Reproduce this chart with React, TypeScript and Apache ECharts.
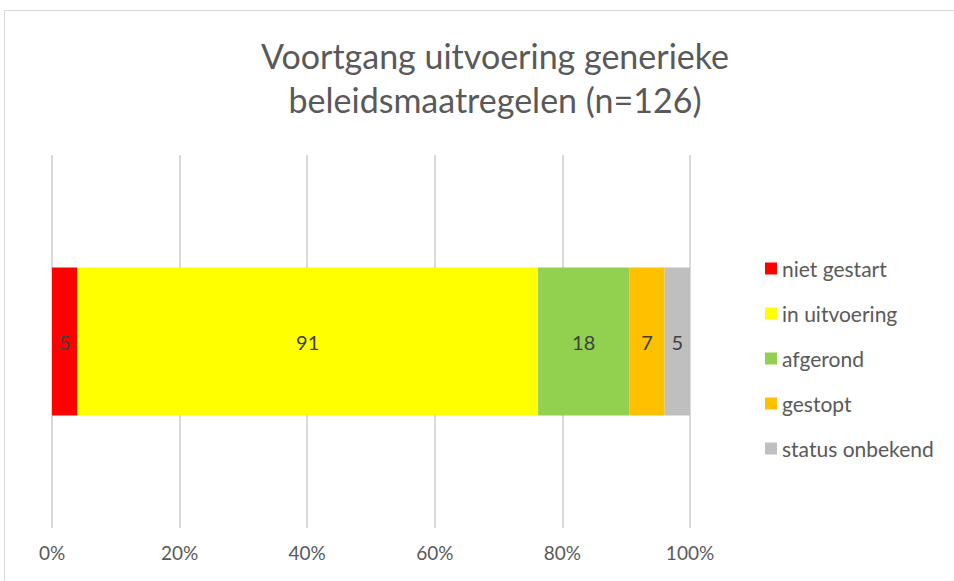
import React, { useEffect, useRef } from "react";
import * as echarts from "echarts";

const categories = ["Voortgang"];
const seriesNames = ["niet gestart", "in uitvoering", "afgerond", "gestopt", "status onbekend"];
const seriesValues = [5, 91, 18, 7, 5];
const seriesColors = ["#FF0000", "#FFFF00", "#92D050", "#FFC000", "#BFBFBF"];
const tickLabels = ["0%", "20%", "40%", "60%", "80%", "100%"];

export default function App() {
  const ref = useRef<HTMLDivElement>(null);
  useEffect(() => {
    document.body.style.margin = "0";
    const chart = echarts.init(ref.current!, null, { renderer: "svg" });
    const total = seriesValues.reduce((a, b) => a + b, 0);
    const step = total / 5;
    const font = "Lato, 'Open Sans', sans-serif";
    chart.setOption({
      animation: false,
      backgroundColor: "#ffffff",
      title: {
        text: "Voortgang uitvoering generieke\nbeleidsmaatregelen (n=126)",
        left: 490,
        textAlign: "center",
        top: 28,
        textStyle: {
          fontFamily: font,
          fontSize: 34,
          fontWeight: "normal",
          color: "#595959",
          lineHeight: 44,
        },
      },
      graphic: [
        {
          type: "rect",
          shape: { x: 4.5, y: 10.5, width: 1000, height: 700 },
          style: { fill: "none", stroke: "#D9D9D9", lineWidth: 1 },
          silent: true,
        },
      ],
      legend: {
        orient: "vertical",
        left: 760,
        top: 252,
        itemWidth: 12,
        itemHeight: 12,
        itemGap: 22,
        icon: "rect",
        data: seriesNames,
        textStyle: { fontFamily: font, fontSize: 21, color: "#595959", lineHeight: 23 },
      },
      grid: { left: 52, right: 264, top: 155, bottom: 53, containLabel: false },
      xAxis: {
        type: "value",
        min: 0,
        max: total,
        interval: step,
        axisLine: { show: false },
        axisTick: { show: false },
        splitLine: { show: true, lineStyle: { color: "#D9D9D9", width: 2 } },
        axisLabel: {
          fontFamily: font,
          fontSize: 19,
          color: "#595959",
          margin: 15,
          formatter: (v: number) => {
            const i = Math.round(v / step);
            return tickLabels[i] ?? "";
          },
        },
      },
      yAxis: {
        type: "category",
        data: categories,
        axisLine: { show: false },
        axisTick: { show: false },
        axisLabel: { show: false },
      },
      series: seriesNames.map((name, i) => ({
        name,
        type: "bar",
        stack: "total",
        barWidth: 148,
        itemStyle: { color: seriesColors[i] },
        label: {
          show: true,
          position: "inside",
          fontFamily: font,
          fontSize: 20,
          color: "#404040",
        },
        data: [seriesValues[i]],
      })),
    });
    return () => chart.dispose();
  }, []);
  return <div ref={ref} style={{ width: 954, height: 581 }} />;
}
